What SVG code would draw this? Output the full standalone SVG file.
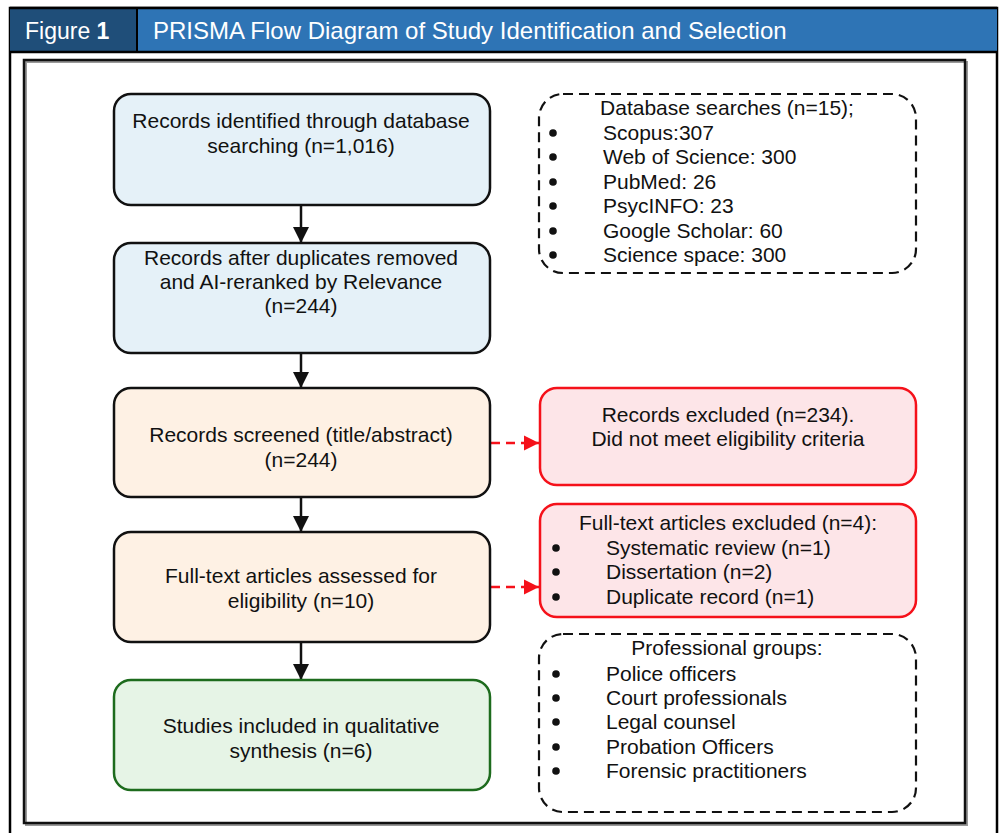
<svg xmlns="http://www.w3.org/2000/svg" width="1002" height="833" viewBox="0 0 1002 833">
<defs>
<style>
text{font-family:"Liberation Sans",Arial,sans-serif;font-size:21px;fill:#111}
.c{text-anchor:middle}
.hd{fill:#fff;font-size:24px}
.bl{fill:#111}
.bx{stroke:#111;stroke-width:2.5}
.blue{fill:#e5f1f8}
.orange{fill:#fef1e4}
.green{fill:#e6f4e6;stroke:#1d6b1d;stroke-width:2.5}
.red{fill:#fde5e8;stroke:#f5111a;stroke-width:2.5}
.dash{fill:#fff;stroke:#111;stroke-width:2.2;stroke-dasharray:10 6}
.arr{stroke:#111;stroke-width:2.5;fill:none}
.rarr{stroke:#f5111a;stroke-width:2.5;fill:none;stroke-dasharray:9 6}
</style>
<marker id="ah" markerUnits="userSpaceOnUse" markerWidth="16" markerHeight="16" refX="16" refY="8" orient="auto">
<path d="M0,0 L16,8 L0,16 Z" fill="#111"/>
</marker>
<marker id="rah" markerUnits="userSpaceOnUse" markerWidth="16" markerHeight="16" refX="15" refY="8" orient="auto">
<path d="M0,0.5 L15,8 L0,15.5 Z" fill="#f5111a"/>
</marker>
</defs>
<rect x="0" y="0" width="1002" height="833" fill="#fff"/>
<g id="frame">
<rect x="10" y="8" width="987" height="840" fill="#fff" stroke="#000" stroke-width="2.5"/>
<rect x="10" y="8" width="127" height="44" fill="#1f4e79"/>
<rect x="137" y="8" width="860" height="44" fill="#2e74b5"/>
<line x1="10" y1="52" x2="997" y2="52" stroke="#000" stroke-width="2.5"/>
<line x1="137" y1="8" x2="137" y2="52" stroke="#000" stroke-width="2"/>
<line x1="10" y1="8" x2="997" y2="8" stroke="#000" stroke-width="2.5"/>
<text class="hd" x="25" y="39" style="font-size:23px">Figure <tspan font-weight="bold">1</tspan></text>
<text class="hd" x="153" y="39">PRISMA Flow Diagram of Study Identification and Selection</text>
<rect x="26" y="62" width="941" height="763" fill="none" stroke="#999" stroke-width="2"/>
<rect x="24" y="60" width="941" height="763" fill="none" stroke="#111" stroke-width="2.5"/>
</g>
<g id="connectors">
<line class="arr" x1="301" y1="205" x2="301" y2="243" marker-end="url(#ah)"/>
<line class="arr" x1="301" y1="353" x2="301" y2="388" marker-end="url(#ah)"/>
<line class="arr" x1="301" y1="497" x2="301" y2="532" marker-end="url(#ah)"/>
<line class="arr" x1="301" y1="642" x2="301" y2="680" marker-end="url(#ah)"/>
<line class="rarr" x1="491" y1="443" x2="539" y2="443" marker-end="url(#rah)"/>
<line class="rarr" x1="491" y1="587" x2="539" y2="587" marker-end="url(#rah)"/>
</g>
<g id="n1">
<rect class="bx blue" x="114" y="94" width="376" height="111" rx="17"/>
<text class="c" x="301" y="128">Records identified through database</text>
<text class="c" x="301" y="153">searching (n=1,016)</text>
</g>
<g id="n2">
<rect class="bx blue" x="114" y="243" width="376" height="110" rx="17"/>
<text class="c" x="301" y="265">Records after duplicates removed</text>
<text class="c" x="301" y="289">and AI-reranked by Relevance</text>
<text class="c" x="301" y="313">(n=244)</text>
</g>
<g id="n3">
<rect class="bx orange" x="114" y="388" width="376" height="109" rx="17"/>
<text class="c" x="301" y="442">Records screened (title/abstract)</text>
<text class="c" x="301" y="467">(n=244)</text>
</g>
<g id="n4">
<rect class="bx orange" x="114" y="532" width="376" height="110" rx="17"/>
<text class="c" x="301" y="583">Full-text articles assessed for</text>
<text class="c" x="301" y="608">eligibility (n=10)</text>
</g>
<g id="n5">
<rect class="green" x="114" y="680" width="376" height="110" rx="17"/>
<text class="c" x="301" y="733">Studies included in qualitative</text>
<text class="c" x="301" y="758">synthesis (n=6)</text>
</g>
<g id="db">
<rect class="dash" x="539" y="94" width="377" height="179" rx="24"/>
<text class="c" x="727" y="115">Database searches (n=15);</text>
<circle class="bl" cx="553" cy="133" r="3.8"/><text x="603" y="140">Scopus:307</text>
<circle class="bl" cx="553" cy="157" r="3.8"/><text x="603" y="164">Web of Science: 300</text>
<circle class="bl" cx="553" cy="182" r="3.8"/><text x="603" y="189">PubMed: 26</text>
<circle class="bl" cx="553" cy="206" r="3.8"/><text x="603" y="213">PsycINFO: 23</text>
<circle class="bl" cx="553" cy="231" r="3.8"/><text x="603" y="238">Google Scholar: 60</text>
<circle class="bl" cx="553" cy="255" r="3.8"/><text x="603" y="262">Science space: 300</text>
</g>
<g id="ex1">
<rect class="red" x="540" y="388" width="376" height="97" rx="17"/>
<text class="c" x="728" y="422">Records excluded (n=234).</text>
<text class="c" x="728" y="446">Did not meet eligibility criteria</text>
</g>
<g id="ex2">
<rect class="red" x="540" y="504" width="376" height="113" rx="17"/>
<text class="c" x="728" y="530">Full-text articles excluded (n=4):</text>
<circle class="bl" cx="556" cy="548" r="3.8"/><text x="606" y="555">Systematic review (n=1)</text>
<circle class="bl" cx="556" cy="572" r="3.8"/><text x="606" y="579">Dissertation (n=2)</text>
<circle class="bl" cx="556" cy="597" r="3.8"/><text x="606" y="604">Duplicate record (n=1)</text>
</g>
<g id="groups">
<rect class="dash" x="539" y="634" width="377" height="178" rx="24"/>
<text class="c" x="727" y="655">Professional groups:</text>
<circle class="bl" cx="556" cy="674" r="3.8"/><text x="606" y="681">Police officers</text>
<circle class="bl" cx="556" cy="698" r="3.8"/><text x="606" y="705">Court professionals</text>
<circle class="bl" cx="556" cy="722" r="3.8"/><text x="606" y="729">Legal counsel</text>
<circle class="bl" cx="556" cy="747" r="3.8"/><text x="606" y="754">Probation Officers</text>
<circle class="bl" cx="556" cy="771" r="3.8"/><text x="606" y="778">Forensic practitioners</text>
</g>
</svg>
